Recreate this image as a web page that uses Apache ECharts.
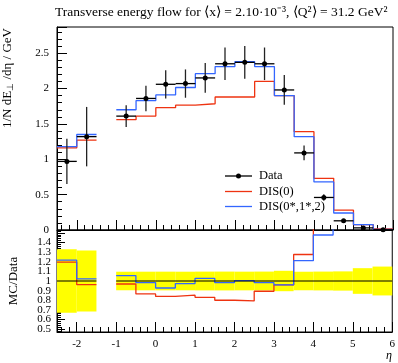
<!DOCTYPE html>
<html>
<head>
<meta charset="utf-8">
<script src="https://cdn.jsdelivr.net/npm/echarts@6/dist/echarts.min.js"></script>
<style>html,body{margin:0;padding:0;background:#fff}#chart{width:398px;height:363px}</style>
</head>
<body>
<div id="chart"></div>
<script>
// eta bins (gap between -1.5 and -1)
var binLo = [-2.5, -2, -1, -0.5, 0, 0.5, 1, 1.5, 2, 2.5, 3, 3.5, 4, 4.5, 5, 5.5];
var binHi = [-2, -1.5, -0.5, 0, 0.5, 1, 1.5, 2, 2.5, 3, 3.5, 4, 4.5, 5, 5.5, 6];
var dataVal = [0.97, 1.32, 1.61, 1.86, 2.06, 2.07, 2.15, 2.35, 2.37, 2.35, 1.98, 1.09, 0.46, 0.13, 0.03, 0.004];
var dataErr = [0.32, 0.42, 0.155, 0.18, 0.2, 0.2, 0.21, 0.23, 0.23, 0.23, 0.21, 0.105, 0.045, 0.013, 0.004, 0.0006];
var dis0 = [1.16, 1.27, 1.56, 1.61, 1.73, 1.765, 1.785, 1.88, 1.88, 2.10, 1.90, 1.39, 0.73, 0.28, 0.075, 0.015];
var dis012 = [1.18, 1.35, 1.70, 1.83, 1.91, 2.015, 2.21, 2.31, 2.38, 2.31, 1.90, 1.32, 0.68, 0.24, 0.075, 0.01];

var RED = '#ee3311', BLUE = '#3366ff';
var FONT = 'Liberation Serif';

// step line points, broken where bins are not adjacent
function steps(vals, ratio) {
  var pts = [];
  for (var i = 0; i < binLo.length; i++) {
    var v = ratio ? vals[i] / dataVal[i] : vals[i];
    if (i > 0 && binLo[i] !== binHi[i - 1]) pts.push(['-', '-']);
    pts.push([binLo[i], v], [binHi[i], v]);
  }
  return pts;
}

var dataPts = binLo.map(function (lo, i) {
  return [(lo + binHi[i]) / 2, dataVal[i], dataErr[i], lo, binHi[i]];
});
var bandPts = binLo.map(function (lo, i) {
  return [lo, binHi[i], dataErr[i] / dataVal[i]];
});

function xAx(grid, labels) {
  return {
    type: 'value', gridIndex: grid, min: -2.5, max: 6, splitNumber: 9,
    axisLine: { show: true, onZero: false, lineStyle: { color: '#000' } },
    axisTick: { inside: true, length: 10, lineStyle: { color: '#000' } },
    minorTick: { show: true, splitNumber: 5, length: 5, lineStyle: { color: '#000' } },
    splitLine: { show: false },
    axisLabel: { show: labels, showMinLabel: false, color: '#000', fontFamily: FONT, fontSize: 11, margin: 7 }
  };
}

var myChart = echarts.init(document.getElementById('chart'));
myChart.setOption({
  animation: false,
  grid: [
    { left: 57, top: 27, width: 336, height: 203, show: true, borderColor: '#000', borderWidth: 1 },
    { left: 57, top: 230, width: 336, height: 102, show: true, borderColor: '#000', borderWidth: 1 }
  ],
  xAxis: [xAx(0, false), xAx(1, true)],
  yAxis: [
    {
      type: 'value', gridIndex: 0, min: 0, max: 2.87, interval: 0.5,
      axisLine: { show: true, onZero: false, lineStyle: { color: '#000' } },
      axisTick: { inside: true, length: 10, lineStyle: { color: '#000' } },
      minorTick: { show: true, splitNumber: 5, length: 5, lineStyle: { color: '#000' } },
      splitLine: { show: false },
      axisLabel: { showMaxLabel: false, color: '#000', fontFamily: FONT, fontSize: 11, margin: 8 }
    },
    {
      type: 'value', gridIndex: 1, min: 0.47, max: 1.53, splitNumber: 10,
      axisLine: { show: true, onZero: false, lineStyle: { color: '#000' } },
      axisTick: { inside: true, length: 8, lineStyle: { color: '#000' } },
      minorTick: { show: true, splitNumber: 5, length: 4, lineStyle: { color: '#000' } },
      splitLine: { show: false },
      axisLabel: {
        showMinLabel: false, showMaxLabel: false, color: '#000', fontFamily: FONT, fontSize: 11, margin: 6,
        formatter: function (v) { return v > 1.45 ? '' : String(v); }
      }
    }
  ],
  series: [
    {
      type: 'line', xAxisIndex: 0, yAxisIndex: 0, data: steps(dis0, false), symbol: 'none',
      lineStyle: { color: RED, width: 1.3 }, z: 3
    },
    {
      type: 'line', xAxisIndex: 0, yAxisIndex: 0, data: steps(dis012, false), symbol: 'none',
      lineStyle: { color: BLUE, width: 1.3 }, z: 3
    },
    {
      type: 'custom', xAxisIndex: 0, yAxisIndex: 0, data: dataPts, z: 5,
      encode: { x: [0, 3, 4], y: 1 },
      renderItem: function (params, api) {
        var c = api.coord([api.value(0), api.value(1)]);
        var l = api.coord([api.value(3), api.value(1)]);
        var r = api.coord([api.value(4), api.value(1)]);
        var t = api.coord([api.value(0), api.value(1) + api.value(2)]);
        var b = api.coord([api.value(0), api.value(1) - api.value(2)]);
        return {
          type: 'group', children: [
            { type: 'line', shape: { x1: l[0], y1: l[1], x2: r[0], y2: r[1] }, style: { stroke: '#000', lineWidth: 1.3 } },
            { type: 'line', shape: { x1: t[0], y1: t[1], x2: b[0], y2: b[1] }, style: { stroke: '#222', lineWidth: 1.3 } },
            { type: 'circle', shape: { cx: c[0], cy: c[1], r: 2.5 }, style: { fill: '#000' } }
          ]
        };
      }
    },
    {
      type: 'custom', xAxisIndex: 1, yAxisIndex: 1, data: bandPts, z: 1, clip: true,
      encode: { x: [0, 1], y: 2 },
      renderItem: function (params, api) {
        var a = api.coord([api.value(0), 1 + api.value(2)]);
        var b = api.coord([api.value(1), 1 - api.value(2)]);
        return { type: 'rect', shape: { x: a[0], y: a[1], width: b[0] - a[0], height: b[1] - a[1] }, style: { fill: '#ffff00' } };
      }
    },
    {
      type: 'line', xAxisIndex: 1, yAxisIndex: 1, data: steps(dataVal, true), symbol: 'none',
      lineStyle: { color: '#000', width: 1.2 }, z: 4
    },
    {
      type: 'line', xAxisIndex: 1, yAxisIndex: 1, data: steps(dis0, true), symbol: 'none',
      lineStyle: { color: RED, width: 1.3 }, z: 3
    },
    {
      type: 'line', xAxisIndex: 1, yAxisIndex: 1, data: steps(dis012, true), symbol: 'none',
      lineStyle: { color: BLUE, width: 1.3 }, z: 3
    }
  ],
  graphic: [
    {
      type: 'text', left: 55, top: 5,
      style: { text: 'Transverse energy flow for \u27e8x\u27e9 = 2.10\u00b710\u207b\u00b3, \u27e8Q\u00b2\u27e9 = 31.2 GeV\u00b2', fill: '#000', font: '13.5px "' + FONT + '"' }
    },
    {
      type: 'text', x: 8, y: 28, rotation: Math.PI / 2,
      style: {
        text: '1/N dE{s|\u22a5} /d\u03b7 / GeV', fill: '#000', font: '13px "' + FONT + '"',
        align: 'right', verticalAlign: 'middle',
        rich: { s: { fontSize: 9, fontFamily: FONT, verticalAlign: 'bottom', padding: [6, 0, 0, 0] } }
      }
    },
    {
      type: 'text', x: 14, y: 281, rotation: Math.PI / 2,
      style: { text: 'MC/Data', fill: '#000', font: '13px "' + FONT + '"', align: 'center', verticalAlign: 'middle' }
    },
    {
      type: 'text', x: 386, y: 350,
      style: { text: '\u03b7', fill: '#000', font: 'italic 12px "' + FONT + '"' }
    },
    // legend
    { type: 'line', shape: { x1: 225, y1: 176, x2: 252, y2: 176 }, style: { stroke: '#000', lineWidth: 1.3 } },
    { type: 'circle', shape: { cx: 238.5, cy: 176, r: 2.5 }, style: { fill: '#000' } },
    { type: 'text', x: 259, y: 176, style: { text: 'Data', fill: '#000', font: '12.5px "' + FONT + '"', verticalAlign: 'middle' } },
    { type: 'line', shape: { x1: 225, y1: 191.5, x2: 252, y2: 191.5 }, style: { stroke: RED, lineWidth: 1.3 } },
    { type: 'text', x: 259, y: 191.5, style: { text: 'DIS(0)', fill: '#000', font: '12.5px "' + FONT + '"', verticalAlign: 'middle' } },
    { type: 'line', shape: { x1: 225, y1: 206.5, x2: 252, y2: 206.5 }, style: { stroke: BLUE, lineWidth: 1.3 } },
    { type: 'text', x: 259, y: 206.5, style: { text: 'DIS(0*,1*,2)', fill: '#000', font: '12.5px "' + FONT + '"', verticalAlign: 'middle' } }
  ]
});
</script>
</body>
</html>
